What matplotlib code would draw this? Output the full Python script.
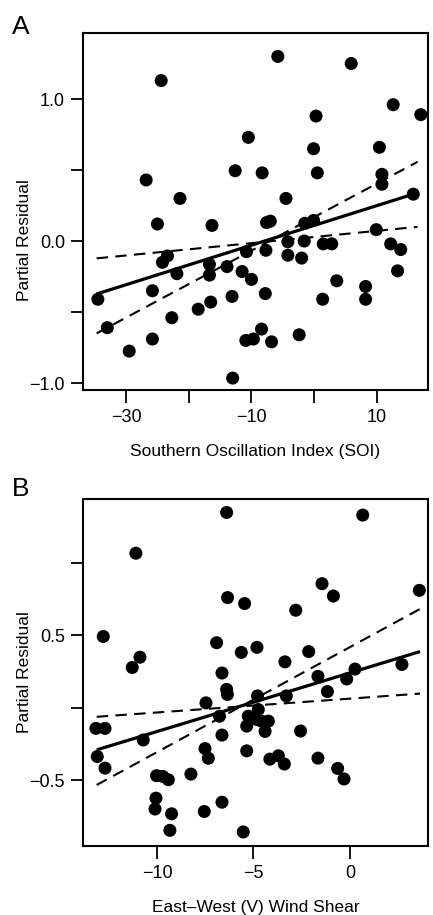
import matplotlib
matplotlib.use("Agg")
import matplotlib.pyplot as plt
import numpy as np

plt.rcParams['font.family'] = ['Liberation Sans', 'DejaVu Sans']

# ---- Panel A data: Southern Oscillation Index vs partial residual ----
soi_x = [-24.4, -10.5, -26.8, -12.6, -8.3, -21.4, -25.0, -16.3, -5.8, 5.9,
         12.6, 17.0, 0.3, -0.1, 10.4, 0.5, 10.8, 10.8, -4.5, -7.6,
         -7.0, -1.5, -0.1, 15.8, 9.9, -10.8, -7.7, -4.2, -4.2, -1.6,
         -2.0, 1.45, 2.8, 12.2, 13.8, 13.3, -10.0, 3.6, -7.8, 1.35,
         8.2, 8.2, -8.4, -9.7, -6.8, -2.4, -34.5, -33.0, -29.5, -25.8,
         -25.8, -24.2, -23.4, -21.9, -22.7, -16.7, -16.7, -16.5, -18.5, -13.9,
         -13.1, -11.5, -10.9, -13.0]
soi_res = [1.13, 0.73, 0.43, 0.495, 0.48, 0.30, 0.12, 0.11, 1.30, 1.25,
           0.96, 0.89, 0.88, 0.65, 0.66, 0.48, 0.47, 0.40, 0.30, 0.13,
           0.14, 0.125, 0.145, 0.33, 0.08, -0.075, -0.065, -0.005, -0.10, 0.0,
           -0.12, -0.02, -0.02, -0.02, -0.06, -0.21, -0.27, -0.28, -0.37, -0.41,
           -0.32, -0.41, -0.62, -0.69, -0.71, -0.66, -0.41, -0.61, -0.775, -0.35,
           -0.69, -0.15, -0.105, -0.23, -0.54, -0.165, -0.24, -0.43, -0.48, -0.18,
           -0.39, -0.215, -0.70, -0.965]
soi_fit_x = [-34.7, 16.5]
soi_fit = [-0.373, 0.34]
soi_band_hi = [-0.65, 0.558]
soi_band_lo = [-0.122, 0.10]

# ---- Panel B data: East-West (V) wind shear vs partial residual ----
shear_x = [-6.39, -11.09, -6.34, -5.46, -12.78, -6.91, -5.63, -4.82, -10.88, -11.28,
           -6.63, -6.39, 0.66, -1.45, -0.86, 3.59, -2.81, -3.37, -2.14, 2.69,
           -1.66, 0.26, -0.17, -1.17, -7.46, -4.79, -3.30, -13.16, -12.69, -13.09,
           -12.69, -10.71, -6.76, -6.63, -7.51, -7.34, -10.02, -9.70, -9.41, -8.24,
           -10.05, -10.10, -9.24, -9.33, -7.55, -6.63, -5.53, -5.35, -5.27, -4.75,
           -4.83, -5.35, -4.58, -4.40, -4.23, -2.56, -4.15, -3.71, -3.40, -1.66,
           -0.64, -0.31, -6.35]
shear_res = [1.345, 1.064, 0.758, 0.717, 0.49, 0.447, 0.38, 0.415, 0.347, 0.276,
             0.238, 0.125, 1.327, 0.854, 0.769, 0.808, 0.671, 0.315, 0.386, 0.297,
             0.215, 0.265, 0.197, 0.11, 0.032, 0.08, 0.08, -0.144, -0.144, -0.338,
             -0.418, -0.224, -0.06, -0.19, -0.283, -0.35, -0.47, -0.475, -0.498, -0.459,
             -0.625, -0.70, -0.733, -0.847, -0.717, -0.653, -0.858, -0.299, -0.06, -0.014,
             -0.082, -0.128, -0.094, -0.165, -0.094, -0.162, -0.356, -0.333, -0.39, -0.349,
             -0.42, -0.493, 0.09]
shear_fit_x = [-13.12, 3.63]
shear_fit = [-0.292, 0.386]
shear_band_hi = [-0.534, 0.68]
shear_band_lo = [-0.064, 0.096]

W, H = 433, 915
fig = plt.figure(figsize=(W / 100, H / 100), dpi=100)

def make_axes(top, bottom, left=83, right=428):
    return fig.add_axes([left / W, (H - bottom) / H, (right - left) / W, (bottom - top) / H])

axA = make_axes(33, 390)
axB = make_axes(499, 846)

FS_TICK = 13
FS_LAB = 12.5

def style(ax):
    for s in ax.spines.values():
        s.set_linewidth(1.5)
    ax.tick_params(direction='out', length=9, width=1.3, labelsize=FS_TICK, colors='black')
    ax.tick_params(axis='x', pad=4.5)
    ax.tick_params(axis='y', pad=4)

def draw(ax, x, y, fx, fy, hi, lo):
    ax.scatter(x, y, s=88, color='black', edgecolors='none', zorder=3)
    ax.plot(fx, fy, color='black', lw=2.3, solid_capstyle='butt', zorder=4)
    ax.plot(fx, hi, color='black', lw=1.5, dashes=(5.5, 3.5), zorder=4)
    ax.plot(fx, lo, color='black', lw=1.5, dashes=(5.5, 3.5), zorder=4)

# Panel A
draw(axA, soi_x, soi_res, soi_fit_x, soi_fit, soi_band_hi, soi_band_lo)
axA.set_xlim(-36.87, 18.15)
axA.set_ylim(-1.049, 1.465)
axA.set_xticks([-30, -20, -10, 0, 10])
axA.set_xticklabels(['\u221230', '', '\u221210', '', '10'])
axA.set_yticks([-1.0, -0.5, 0.0, 0.5, 1.0])
axA.set_yticklabels(['\u22121.0', '', '0.0', '', '1.0'])
style(axA)
axA.set_xlabel('Southern Oscillation Index (SOI)', fontsize=FS_LAB, labelpad=13)
axA.set_ylabel('Partial Residual', fontsize=FS_LAB)
axA.yaxis.set_label_coords(-0.148, 0.42)
fig.text(12 / W, 1 - 27 / H, 'A', fontsize=19, va='center', ha='left')

# Panel B
draw(axB, shear_x, shear_res, shear_fit_x, shear_fit, shear_band_hi, shear_band_lo)
axB.set_xlim(-13.83, 4.04)
axB.set_ylim(-0.955, 1.438)
axB.set_xticks([-10, -5, 0])
axB.set_xticklabels(['\u221210', '\u22125', '0'])
axB.set_yticks([-0.5, 0.0, 0.5, 1.0])
axB.set_yticklabels(['\u22120.5', '', '0.5', ''])
style(axB)
axB.set_xlabel('East\u2013West (V) Wind Shear', fontsize=FS_LAB, labelpad=13)
axB.set_ylabel('Partial Residual', fontsize=FS_LAB)
axB.yaxis.set_label_coords(-0.148, 0.5)
fig.text(12 / W, 1 - 489 / H, 'B', fontsize=19, va='center', ha='left')

fig.savefig('out.png', dpi=100, facecolor='white')
